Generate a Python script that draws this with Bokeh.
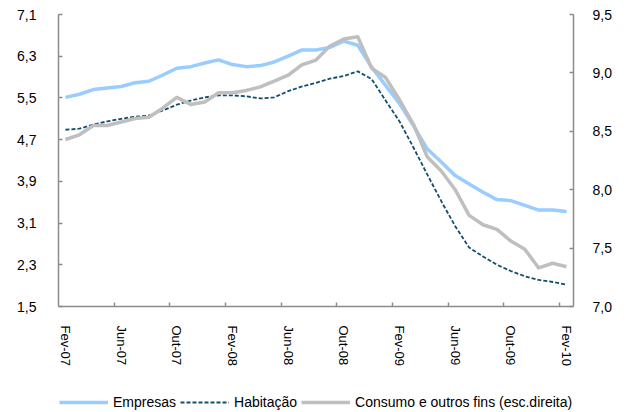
from bokeh.plotting import figure
from bokeh.layouts import column
from bokeh.models import (Range1d, LinearAxis, FixedTicker, CustomJSTickFormatter,
                          Legend, LegendItem)
from bokeh.embed import file_html
from bokeh.resources import INLINE

months = ["Fev-07", "Mar-07", "Abr-07", "Mai-07", "Jun-07", "Jul-07", "Ago-07", "Set-07",
          "Out-07", "Nov-07", "Dez-07", "Jan-08", "Fev-08", "Mar-08", "Abr-08", "Mai-08",
          "Jun-08", "Jul-08", "Ago-08", "Set-08", "Out-08", "Nov-08", "Dez-08", "Jan-09",
          "Fev-09", "Mar-09", "Abr-09", "Mai-09", "Jun-09", "Jul-09", "Ago-09", "Set-09",
          "Out-09", "Nov-09", "Dez-09", "Jan-10", "Fev-10"]

empresas = [5.51, 5.57, 5.66, 5.69, 5.72, 5.79, 5.82, 5.94, 6.07, 6.10, 6.17,
            6.23, 6.14, 6.10, 6.12, 6.19, 6.30, 6.42, 6.42, 6.47, 6.59,
            6.51, 6.09, 5.74, 5.39, 4.97, 4.52, 4.27, 4.01, 3.85, 3.69,
            3.55, 3.53, 3.44, 3.35, 3.35, 3.32]

habitacao = [4.89, 4.91, 4.99, 5.05, 5.10, 5.14, 5.16, 5.26, 5.37, 5.45, 5.51,
             5.55, 5.55, 5.53, 5.49, 5.51, 5.63, 5.72, 5.79, 5.87, 5.92,
             6.01, 5.86, 5.45, 5.05, 4.55, 4.03, 3.52, 3.04, 2.63, 2.46,
             2.30, 2.18, 2.08, 2.01, 1.97, 1.92]

consumo = [8.43, 8.47, 8.55, 8.55, 8.58, 8.61, 8.62, 8.70, 8.79, 8.73, 8.75,
           8.83, 8.83, 8.85, 8.88, 8.93, 8.98, 9.07, 9.11, 9.23, 9.29,
           9.31, 9.04, 8.96, 8.77, 8.56, 8.28, 8.16, 8.00, 7.78, 7.70,
           7.66, 7.56, 7.49, 7.33, 7.37, 7.34]

left_ticks = [1.5, 2.3, 3.1, 3.9, 4.7, 5.5, 6.3, 7.1]
right_ticks = [7.0, 7.5, 8.0, 8.5, 9.0, 9.5]
label_every = 4

names = ["Empresas", "Habitação", "Consumo e outros fins (esc.direita)"]
colors = ["#99CCFF", "#124E6E", "#BFBFBF"]
widths = [3.5, 1.8, 3.5]
dashes = ["solid", "4 2", "solid"]

FONT = "Liberation Sans"
AXIS_COLOR = "#8C8C8C"

x = list(range(len(months)))

p = figure(width=627, height=392, output_backend="svg", toolbar_location=None,
           x_range=Range1d(-0.5, len(months) - 0.5),
           y_range=Range1d(left_ticks[0], left_ticks[-1]),
           min_border_left=58, min_border_right=54, min_border_top=14,
           min_border_bottom=86, x_axis_type=None, y_axis_type=None)
p.outline_line_color = None
p.xgrid.visible = False
p.ygrid.visible = False
p.extra_y_ranges = {"right": Range1d(right_ticks[0], right_ticks[-1])}

fmt = CustomJSTickFormatter(code="return tick.toFixed(1).replace('.', ',');")

yl = LinearAxis(ticker=FixedTicker(ticks=left_ticks, minor_ticks=[]), formatter=fmt)
yr = LinearAxis(y_range_name="right", ticker=FixedTicker(ticks=right_ticks, minor_ticks=[]),
                formatter=fmt)
for ax, standoff in ((yl, 22), (yr, 19)):
    ax.axis_line_color = AXIS_COLOR
    ax.axis_line_width = 1.5
    ax.major_tick_line_color = AXIS_COLOR
    ax.major_tick_line_width = 1.5
    ax.major_tick_in = 4
    ax.major_tick_out = 0
    ax.minor_tick_line_color = None
    ax.major_label_standoff = standoff
    ax.major_label_text_font = FONT
    ax.major_label_text_font_size = "14px"
    ax.major_label_text_color = "#000000"
p.add_layout(yl, "left")
p.add_layout(yr, "right")

label_pos = x[::label_every]
boundaries = [i + 0.5 for i in x[label_every - 1:-1:label_every]]
xa = LinearAxis(ticker=FixedTicker(ticks=label_pos, minor_ticks=boundaries))
xa.major_label_overrides = {i: months[i] for i in label_pos}
xa.major_label_orientation = "vertical"
xa.axis_line_color = AXIS_COLOR
xa.axis_line_width = 1.5
xa.major_tick_line_color = None
xa.major_tick_in = 0
xa.major_tick_out = 0
xa.minor_tick_line_color = AXIS_COLOR
xa.minor_tick_line_width = 1.5
xa.minor_tick_in = 4
xa.minor_tick_out = 0
xa.major_label_standoff = 19
xa.major_label_text_font = FONT
xa.major_label_text_font_size = "13px"
xa.major_label_text_color = "#000000"
p.add_layout(xa, "below")

series = [empresas, habitacao, consumo]
range_names = ["default", "default", "right"]
for vals, c, w, d, rn in zip(series, colors, widths, dashes, range_names):
    p.line(x, vals, line_color=c, line_width=w, line_dash=d, line_join="round",
           y_range_name=rn)

# legend strip below the chart (its own small figure; its renderers lie outside
# its visible range, they only supply the legend swatches)
lp = figure(width=627, height=20, output_backend="svg", toolbar_location=None,
            x_range=Range1d(-0.5, len(months) - 0.5), y_range=Range1d(100, 101),
            min_border_left=0, min_border_right=0, min_border_top=0,
            min_border_bottom=0, x_axis_type=None, y_axis_type=None)
lp.outline_line_color = None
lp.xgrid.visible = False
lp.ygrid.visible = False
items = []
for name, vals, c, w, d in zip(names, series, colors, widths, dashes):
    r = lp.line(x, vals, line_color=c, line_width=w, line_dash=d)
    items.append(LegendItem(label=name, renderers=[r]))

legend = Legend(items=items, orientation="horizontal", location=(1, 1),
                border_line_color=None, background_fill_alpha=0,
                padding=0, margin=0, spacing=4, label_standoff=5,
                glyph_width=49, glyph_height=14, label_height=18,
                label_text_font=FONT, label_text_font_size="14px",
                label_text_color="#000000")
lp.add_layout(legend, "center")

layout = column(p, lp, spacing=0)
open("out.html", "w").write(file_html(layout, INLINE))
